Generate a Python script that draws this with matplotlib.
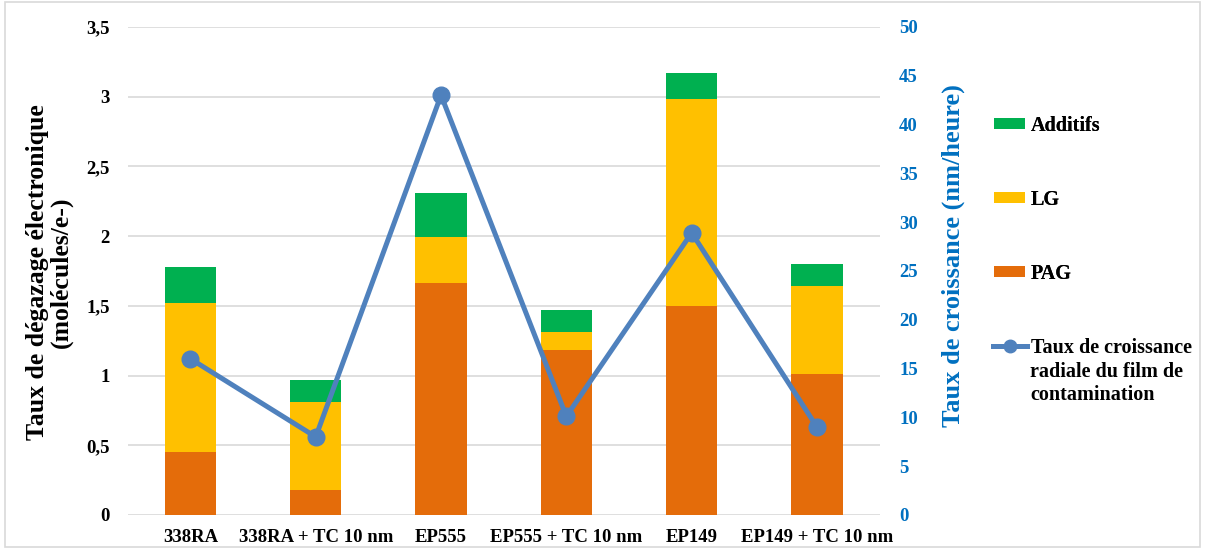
import matplotlib.pyplot as plt
import numpy as np

samples = ["338RA", "338RA + TC 10 nm", "EP555", "EP555 + TC 10 nm", "EP149", "EP149 + TC 10 nm"]
pag = [0.45, 0.18, 1.66, 1.18, 1.50, 1.01]
lg = [1.07, 0.63, 0.33, 0.13, 1.48, 0.63]
additifs = [0.26, 0.16, 0.32, 0.16, 0.19, 0.16]
croissance = [16.0, 8.0, 43.0, 10.1, 28.9, 9.0]

c_pag = "#E46C0A"
c_lg = "#FFC000"
c_add = "#00B050"
c_line = "#4F81BD"
c_right = "#0070C0"

plt.rcParams["font.family"] = "serif"
plt.rcParams["font.serif"] = ["Liberation Serif", "DejaVu Serif"]
plt.rcParams["font.weight"] = "bold"

fig = plt.figure(figsize=(12.05, 5.49), dpi=100)
ax = fig.add_axes([0.106, 0.062, 0.624, 0.889])
ax2 = ax.twinx()

x = np.arange(len(samples))
w = 0.41
pag = np.array(pag)
lg = np.array(lg)
additifs = np.array(additifs)
b1 = ax.bar(x, pag, w, color=c_pag, label="PAG", zorder=2)
b2 = ax.bar(x, lg, w, bottom=pag, color=c_lg, label="LG", zorder=2)
b3 = ax.bar(x, additifs, w, bottom=pag + lg, color=c_add, label="Additifs", zorder=2)

ln, = ax2.plot(x, croissance, color=c_line, lw=3.6, marker="o", ms=12,
               label="Taux de croissance", zorder=3)

ax.set_xlim(-0.5, 5.5)
ax.set_ylim(0, 3.5)
ax2.set_ylim(0, 50)
ax.set_yticks(np.arange(0, 3.51, 0.5))
ax.set_yticklabels(["0", "0,5", "1", "1,5", "2", "2,5", "3", "3,5"])
ax2.set_yticks(np.arange(0, 51, 5))
ax.set_xticks(x)
ax.set_xticklabels(samples)

ax.grid(axis="y", color="#D9D9D9", lw=1.2, zorder=0)
ax.set_axisbelow(True)
for a in (ax, ax2):
    for s in a.spines.values():
        s.set_visible(False)
    a.tick_params(length=0)
ax.tick_params(axis="y", labelsize=13.5, pad=13)
ax.tick_params(axis="x", labelsize=13.5, pad=10)
ax2.tick_params(axis="y", labelsize=13.5, labelcolor=c_right, pad=14)
for t in ax.get_yticklabels() + ax.get_xticklabels() + ax2.get_yticklabels():
    t.set_fontweight("bold")

fig.text(0.041, 0.505, "Taux de dégazage électronique\n(molécules/e-)", rotation=90,
         ha="center", va="center", fontsize=18.5, fontweight="bold", multialignment="center",
         linespacing=1.05)
fig.text(0.791, 0.535, "Taux de croissance (nm/heure)", rotation=90,
         ha="center", va="center", fontsize=19, fontweight="bold", color=c_right)

leg1 = fig.legend(handles=[b3, b2, b1], loc="upper left", bbox_to_anchor=(0.825, 0.789),
                  frameon=False, prop={"weight": "bold", "size": 14.5},
                  labelspacing=2.68, handlelength=1.55, handleheight=0.5, handletextpad=0.25,
                  borderpad=0, borderaxespad=0)
leg2 = fig.legend(handles=[ln], loc="upper left", bbox_to_anchor=(0.824, 0.384),
                  frameon=False, prop={"weight": "bold", "size": 14.5},
                  handlelength=1.7, handletextpad=0.2, borderpad=0, borderaxespad=0,
                  markerscale=0.75)
fig.add_artist(leg1)
fig.text(0.855, 0.341, "radiale du film de\ncontamination", ha="left", va="top",
         fontsize=14.5, fontweight="bold", linespacing=1.2)

fig.patches.append(plt.Rectangle((0.004, 0.004), 0.992, 0.992, transform=fig.transFigure,
                                 fill=False, edgecolor="#D9D9D9", lw=1.2))

plt.savefig("out.png")
